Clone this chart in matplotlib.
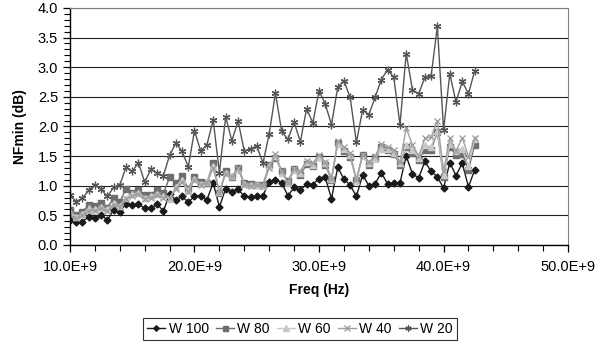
import numpy as np
import matplotlib
matplotlib.use("Agg")
import matplotlib.pyplot as plt
from matplotlib.ticker import MultipleLocator, FuncFormatter

plt.rcParams["font.family"] = ["Liberation Sans", "DejaVu Sans"]

# frequency grid (GHz)
freq_ghz = [10.0, 10.5, 11.0, 11.5, 12.0, 12.5, 13.0, 13.5, 14.0, 14.5,
            15.0, 15.5, 16.0, 16.5, 17.0, 17.5, 18.0, 18.5, 19.0, 19.5,
            20.0, 20.5, 21.0, 21.5, 22.0, 22.5, 23.0, 23.5, 24.0, 24.5,
            25.0, 25.5, 26.0, 26.5, 27.0, 27.5, 28.0, 28.5, 29.0, 29.5,
            30.0, 30.5, 31.0, 31.5, 32.0, 32.5, 33.0, 33.5, 34.0, 34.5,
            35.0, 35.5, 36.0, 36.5, 37.0, 37.5, 38.0, 38.5, 39.0, 39.5,
            40.0, 40.5, 41.0, 41.5, 42.0, 42.5]

w100 = [0.42, 0.38, 0.39, 0.48, 0.45, 0.51, 0.42, 0.59, 0.55, 0.69,
        0.68, 0.69, 0.62, 0.62, 0.69, 0.57, 0.86, 0.76, 0.82, 0.72,
        0.82, 0.83, 0.76, 1.05, 0.64, 0.95, 0.90, 0.94, 0.82, 0.81,
        0.82, 0.83, 1.07, 1.10, 1.05, 0.83, 0.97, 0.92, 1.03, 1.02,
        1.12, 1.14, 0.78, 1.31, 1.11, 1.01, 0.82, 1.18, 1.00, 1.03,
        1.22, 1.03, 1.04, 1.05, 1.50, 1.20, 1.13, 1.41, 1.24, 1.15,
        0.96, 1.39, 1.17, 1.38, 0.98, 1.27]

w80 = [0.59, 0.50, 0.56, 0.67, 0.66, 0.71, 0.63, 0.79, 0.73, 0.94,
       0.87, 0.93, 0.84, 0.85, 0.93, 0.87, 1.14, 1.04, 1.17, 0.95,
       1.15, 1.07, 1.05, 1.39, 0.87, 1.25, 1.15, 1.30, 1.04, 1.03,
       1.02, 1.02, 1.35, 1.47, 1.24, 1.08, 1.28, 1.18, 1.36, 1.33,
       1.48, 1.35, 1.10, 1.72, 1.58, 1.49, 1.10, 1.52, 1.35, 1.46,
       1.66, 1.60, 1.54, 1.35, 1.66, 1.55, 1.44, 1.60, 1.61, 1.90,
       1.15, 1.66, 1.52, 1.54, 1.27, 1.69]

w60 = [0.55, 0.48, 0.52, 0.62, 0.60, 0.64, 0.60, 0.70, 0.66, 0.80,
       0.86, 0.88, 0.80, 0.83, 0.86, 0.82, 0.78, 0.98, 1.10, 0.92,
       1.12, 1.03, 1.06, 1.33, 0.90, 1.22, 1.17, 1.27, 1.03, 1.02,
       1.02, 1.00, 1.33, 1.50, 1.22, 1.05, 1.27, 1.22, 1.40, 1.35,
       1.48, 1.38, 1.12, 1.70, 1.62, 1.52, 1.08, 1.50, 1.38, 1.45,
       1.62, 1.62, 1.56, 1.38, 1.68, 1.60, 1.47, 1.68, 1.66, 1.92,
       1.18, 1.70, 1.58, 1.62, 1.33, 1.78]

w40 = [0.50, 0.45, 0.50, 0.58, 0.58, 0.62, 0.57, 0.68, 0.64, 0.78,
       0.82, 0.86, 0.78, 0.80, 0.84, 0.80, 0.80, 0.95, 1.06, 0.90,
       1.10, 1.02, 1.04, 1.30, 0.88, 1.20, 1.15, 1.30, 1.02, 1.00,
       1.02, 1.00, 1.30, 1.53, 1.25, 1.05, 1.28, 1.25, 1.42, 1.38,
       1.52, 1.40, 1.12, 1.75, 1.65, 1.55, 1.10, 1.52, 1.40, 1.50,
       1.70, 1.65, 1.60, 1.40, 1.97, 1.69, 1.50, 1.80, 1.82, 2.10,
       1.25, 1.80, 1.58, 1.81, 1.49, 1.80]

w20 = [0.84, 0.73, 0.79, 0.92, 1.02, 0.94, 0.82, 0.97, 1.01, 1.31,
       1.24, 1.39, 1.06, 1.28, 1.21, 1.17, 1.51, 1.72, 1.58, 1.32,
       1.93, 1.58, 1.69, 2.11, 1.22, 2.16, 1.76, 2.09, 1.58, 1.62,
       1.67, 1.38, 1.88, 2.56, 1.92, 1.78, 2.07, 1.74, 2.30, 2.06,
       2.60, 2.38, 2.03, 2.66, 2.77, 2.49, 1.73, 2.28, 2.20, 2.49,
       2.79, 2.96, 2.83, 2.03, 3.23, 2.62, 2.55, 2.83, 2.85, 3.69,
       1.94, 2.89, 2.41, 2.76, 2.55, 2.94]

freq = np.array(freq_ghz) * 1e9

fig = plt.figure(figsize=(5.98, 3.45), dpi=100)
ax = fig.add_axes([0.117, 0.290, 0.833, 0.687])

series = [
    ("W 100", w100, dict(color="#1a1a1a", marker="D", ms=3.5, mfc="#1a1a1a", mec="#1a1a1a")),
    ("W 80", w80, dict(color="#6e6e6e", marker="s", ms=4.5, mfc="#6e6e6e", mec="#6e6e6e")),
    ("W 60", w60, dict(color="#c8c8c8", marker="^", ms=5, mfc="#c8c8c8", mec="#c8c8c8")),
    ("W 40", w40, dict(color="#a0a0a0", marker="x", ms=5, mew=1.0)),
    ("W 20", w20, dict(color="#555555", marker=(6, 2, 0), ms=5.5, mew=0.9)),
]
for name, vals, kw in series:
    ax.plot(freq, vals, lw=1.0, label=name, **kw)

ax.set_xlim(10e9, 50e9)
ax.set_ylim(0, 4.0)
ax.xaxis.set_major_locator(MultipleLocator(10e9))
ax.xaxis.set_minor_locator(MultipleLocator(2e9))
ax.yaxis.set_major_locator(MultipleLocator(0.5))
ax.yaxis.set_minor_locator(MultipleLocator(0.1))
ax.xaxis.set_major_formatter(FuncFormatter(lambda v, p: f"{v/1e9:.1f}E+9"))
ax.yaxis.set_major_formatter(FuncFormatter(lambda v, p: f"{v:.1f}"))

ax.grid(axis="y", which="major", color="#202020", lw=0.8)
ax.set_axisbelow(True)
for s in ["top", "right"]:
    ax.spines[s].set_color("#808080")
for s in ["left", "bottom"]:
    ax.spines[s].set_color("black")
    ax.spines[s].set_linewidth(1.0)

ax.tick_params(which="both", direction="out", colors="black", labelsize=10.5)
ax.tick_params(which="major", length=5, width=0.9)
ax.tick_params(which="minor", length=4, width=0.8)
ax.tick_params(axis="x", pad=6)

ax.set_xlabel("Freq (Hz)", fontsize=10, fontweight="bold", labelpad=6)
ax.set_ylabel("NFmin (dB)", fontsize=10, fontweight="bold", labelpad=8)

leg = fig.legend(loc="center", bbox_to_anchor=(0.502, 0.046), ncol=5, fontsize=10,
                 frameon=True, fancybox=False, edgecolor="black", handlelength=1.3,
                 handletextpad=0.25, columnspacing=0.5, borderpad=0.3, markerscale=0.8)
leg.get_frame().set_linewidth(0.8)

fig.savefig("out.png", dpi=100)
